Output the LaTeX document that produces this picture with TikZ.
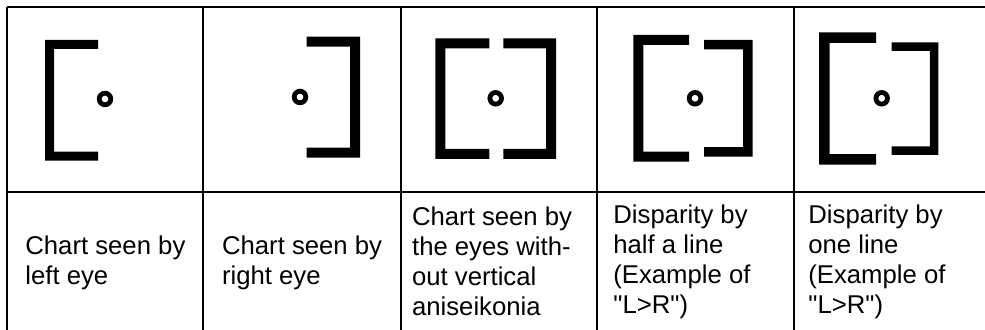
\documentclass[tikz,border=0pt]{standalone}
\usepackage{fontspec}
\setmainfont{Liberation Sans}[Ligatures=TeXOff]
\usepackage{tikz}

\begin{document}
\begin{tikzpicture}[x=0.5pt,y=-0.5pt,
 gridline/.style={line width=1pt},
 ring/.style={line width=2.4pt},
 caption/.style={anchor=west,inner sep=0pt,align=left,font=\fontsize{12.85}{15}\selectfont}]
\useasboundingbox (0,0) rectangle (985,330);
% table rules
\draw[gridline] (7.3,7.3) -- (985,7.3);
\draw[gridline] (7.3,191.7) -- (985,191.7);
\draw[gridline] (7.3,7.3) -- (7.3,330);
\draw[gridline] (203.3,7.3) -- (203.3,330);
\draw[gridline] (400.7,7.3) -- (400.7,330);
\draw[gridline] (596.7,7.3) -- (596.7,330);
\draw[gridline] (793.5,7.3) -- (793.5,330);
% left eye
\fill (45,40) -- (98,40) -- (98,49) -- (54,49) -- (54,151.7) -- (98,151.7) -- (98,160.7) -- (45,160.7) -- cycle;
\draw[ring] (105,99) circle (5.8);
% right eye
\fill (360,36.7) -- (306.7,36.7) -- (306.7,46.7) -- (350,46.7) -- (350,147.7) -- (306.7,147.7) -- (306.7,157.7) -- (360,157.7) -- cycle;
\draw[ring] (300,97) circle (5.8);
% both eyes
\fill (435.3,38.3) -- (489.3,38.3) -- (489.3,48.3) -- (445.3,48.3) -- (445.3,149) -- (489.3,149) -- (489.3,159) -- (435.3,159) -- cycle;
\fill (556,38.3) -- (503.3,38.3) -- (503.3,48.3) -- (546,48.3) -- (546,149) -- (503.3,149) -- (503.3,159) -- (556,159) -- cycle;
\draw[ring] (495.7,98.3) circle (5.8);
% half a line
\fill (633.3,35) -- (689,35) -- (689,45) -- (643.3,45) -- (643.3,151.7) -- (689,151.7) -- (689,161.7) -- (633.3,161.7) -- cycle;
\fill (752.7,40) -- (704,40) -- (704,49.5) -- (743.2,49.5) -- (743.2,147.2) -- (704,147.2) -- (704,156.7) -- (752.7,156.7) -- cycle;
\draw[ring] (695,98.3) circle (5.8);
% one line
\fill (819,32.3) -- (876,32.3) -- (876,42.8) -- (829.5,42.8) -- (829.5,154.2) -- (876,154.2) -- (876,164.7) -- (819,164.7) -- cycle;
\fill (938.3,42.3) -- (891.7,42.3) -- (891.7,50.8) -- (929.8,50.8) -- (929.8,146.5) -- (891.7,146.5) -- (891.7,155) -- (938.3,155) -- cycle;
\draw[ring] (881.7,98.3) circle (5.8);
% captions
\node[caption] (leftcap) at (25,263) {Chart seen by\\left eye};
\node[caption] (rightcap) at (221.7,263) {Chart seen by\\right eye};
\node[caption] (fusedcap) at (411.7,261) {Chart seen by\\the eyes with-\\out vertical\\aniseikonia};
\node[caption] (halfcap) at (613,262) {Disparity by\\half a line\\(Example of\\"L>R")};
\node[caption] (onecap) at (808,262) {Disparity by\\one line\\(Example of\\"L>R")};
\end{tikzpicture}
\end{document}
